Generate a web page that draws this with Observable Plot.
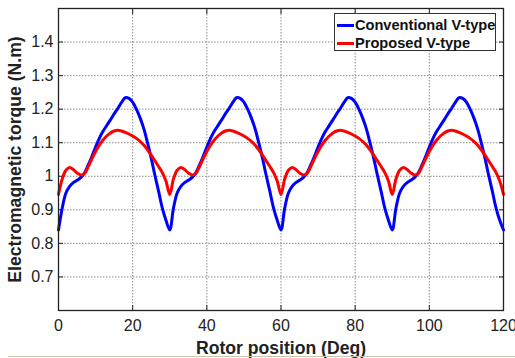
<!DOCTYPE html>
<html>
<head>
<meta charset="utf-8">
<script src="https://cdn.jsdelivr.net/npm/d3@7"></script>
<script src="https://cdn.jsdelivr.net/npm/@observablehq/plot@0.6"></script>
<style>
  html, body { margin: 0; padding: 0; background: #fff; }
  #chart { position: relative; width: 515px; height: 358px; font-family: "Liberation Sans", Arial, sans-serif; }
  #chart svg { display: block; }
  #chart [aria-label="x-axis label"], #chart [aria-label="y-axis label"] { font-size: 17.6px; font-weight: bold; }
  #legend { position: absolute; left: 334px; top: 13px; width: 160px; height: 36px; border: 1px solid #333; background: #fff; }
  #legend .row { position: absolute; left: 2px; height: 18px; line-height: 18px; font-size: 14.6px; font-weight: bold; color: #111; white-space: nowrap; }
  #legend .swatch { display: inline-block; width: 17px; height: 3px; vertical-align: middle; margin-right: 1px; position: relative; top: -1px; }
  #edge { position: absolute; left: 8px; top: 356px; width: 507px; height: 1px; background: #cbc7a9; }
</style>
</head>
<body>
<div id="chart"></div>
<script>
// Rotor position (deg), sampled every degree over 0–120
const rotorPosition = d3.range(0, 121, 1);

// Electromagnetic torque (N.m) per degree, conventional V-type rotor
const conventionalTorque = [
  0.840, 0.905, 0.950, 0.970, 0.981, 0.988, 0.996, 1.010, 1.033, 1.059,
  1.087, 1.113, 1.134, 1.151, 1.168, 1.186, 1.202, 1.220, 1.234, 1.232,
  1.221, 1.200, 1.174, 1.142, 1.100, 1.054, 1.003, 0.955, 0.905, 0.868,
  0.840, 0.905, 0.950, 0.970, 0.981, 0.988, 0.996, 1.010, 1.033, 1.059,
  1.087, 1.113, 1.134, 1.151, 1.168, 1.186, 1.202, 1.220, 1.234, 1.232,
  1.221, 1.200, 1.174, 1.142, 1.100, 1.054, 1.003, 0.955, 0.905, 0.868,
  0.840, 0.905, 0.950, 0.970, 0.981, 0.988, 0.996, 1.010, 1.033, 1.059,
  1.087, 1.113, 1.134, 1.151, 1.168, 1.186, 1.202, 1.220, 1.234, 1.232,
  1.221, 1.200, 1.174, 1.142, 1.100, 1.054, 1.003, 0.955, 0.905, 0.868,
  0.840, 0.905, 0.950, 0.970, 0.981, 0.988, 0.996, 1.010, 1.033, 1.059,
  1.087, 1.113, 1.134, 1.151, 1.168, 1.186, 1.202, 1.220, 1.234, 1.232,
  1.221, 1.200, 1.174, 1.142, 1.100, 1.054, 1.003, 0.955, 0.905, 0.868,
  0.840
];

// Electromagnetic torque (N.m) per degree, proposed V-type rotor
const proposedTorque = [
  0.946, 0.992, 1.018, 1.026, 1.020, 1.010, 1.004, 1.008, 1.028, 1.052,
  1.074, 1.093, 1.108, 1.120, 1.129, 1.135, 1.137, 1.135, 1.131, 1.126,
  1.120, 1.113, 1.104, 1.093, 1.079, 1.063, 1.046, 1.029, 1.011, 0.985,
  0.946, 0.992, 1.018, 1.026, 1.020, 1.010, 1.004, 1.008, 1.028, 1.052,
  1.074, 1.093, 1.108, 1.120, 1.129, 1.135, 1.137, 1.135, 1.131, 1.126,
  1.120, 1.113, 1.104, 1.093, 1.079, 1.063, 1.046, 1.029, 1.011, 0.985,
  0.946, 0.992, 1.018, 1.026, 1.020, 1.010, 1.004, 1.008, 1.028, 1.052,
  1.074, 1.093, 1.108, 1.120, 1.129, 1.135, 1.137, 1.135, 1.131, 1.126,
  1.120, 1.113, 1.104, 1.093, 1.079, 1.063, 1.046, 1.029, 1.011, 0.985,
  0.946, 0.992, 1.018, 1.026, 1.020, 1.010, 1.004, 1.008, 1.028, 1.052,
  1.074, 1.093, 1.108, 1.120, 1.129, 1.135, 1.137, 1.135, 1.131, 1.126,
  1.120, 1.113, 1.104, 1.093, 1.079, 1.063, 1.046, 1.029, 1.011, 0.985,
  0.946
];

const seriesNames = ["Conventional V-type", "Proposed V-type"];
const seriesColors = ["#0000ff", "#ff0000"];

const xTicks = [0, 20, 40, 60, 80, 100, 120];
const yTicks = [0.7, 0.8, 0.9, 1.0, 1.1, 1.2, 1.3, 1.4];

const rows = [
  ...rotorPosition.map((p, i) => ({position: p, torque: conventionalTorque[i], series: seriesNames[0]})),
  ...rotorPosition.map((p, i) => ({position: p, torque: proposedTorque[i], series: seriesNames[1]}))
];

const gridStyle = {stroke: "#8c8c8c", strokeOpacity: 1, strokeWidth: 1, strokeDasharray: "1.5,1.5"};

const chart = Plot.plot({
  width: 515,
  height: 358,
  marginLeft: 58,
  marginRight: 12,
  marginTop: 8,
  marginBottom: 48,
  style: {fontFamily: "'Liberation Sans', Arial, sans-serif", fontSize: "16px", color: "#222", background: "#fff"},
  x: {domain: [0, 120]},
  y: {domain: [0.6, 1.5]},
  color: {domain: seriesNames, range: seriesColors},
  marks: [
    Plot.gridX(xTicks, gridStyle),
    Plot.gridY(yTicks, gridStyle),
    // tick labels and axis titles
    Plot.axisX(xTicks, {tickSize: 0, tickPadding: 9, label: "Rotor position (Deg)", labelAnchor: "center", labelOffset: 43, labelArrow: "none"}),
    Plot.axisY(yTicks, {tickSize: 0, tickPadding: 5, tickFormat: d => String(+d.toFixed(1)), label: "Electromagnetic torque (N.m)", labelAnchor: "center", labelOffset: 50, labelArrow: "none"}),
    // inward tick marks on all four sides of the box
    Plot.axisX(xTicks, {anchor: "bottom", tickSize: -5, text: null, label: null, stroke: "#222"}),
    Plot.axisX(xTicks, {anchor: "top", tickSize: -5, text: null, label: null, stroke: "#222"}),
    Plot.axisY(yTicks, {anchor: "left", tickSize: -5, text: null, label: null, stroke: "#222"}),
    Plot.axisY(yTicks, {anchor: "right", tickSize: -5, text: null, label: null, stroke: "#222"}),
    Plot.line(rows, {x: "position", y: "torque", z: "series", stroke: "series", strokeWidth: 3, curve: "catmull-rom"}),
    Plot.frame({stroke: "#222", strokeWidth: 1.3})
  ]
});

const root = document.getElementById("chart");
root.appendChild(chart);

// legend box in the upper right of the plot area
const legend = document.createElement("div");
legend.id = "legend";
seriesNames.forEach((name, i) => {
  const row = document.createElement("div");
  row.className = "row";
  row.style.top = (2 + i * 18) + "px";
  const sw = document.createElement("span");
  sw.className = "swatch";
  sw.style.background = seriesColors[i];
  row.appendChild(sw);
  row.appendChild(document.createTextNode(name));
  legend.appendChild(row);
});
root.appendChild(legend);

const edge = document.createElement("div");
edge.id = "edge";
root.appendChild(edge);
</script>
</body>
</html>
